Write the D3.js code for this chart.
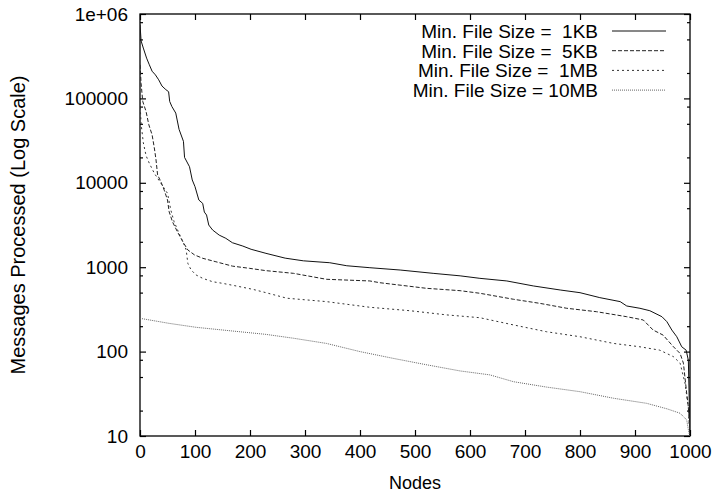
<!DOCTYPE html>
<html>
<head>
<meta charset="utf-8">
<script src="https://cdn.jsdelivr.net/npm/d3@7"></script>
<style>
  body { margin: 0; background: #fff; }
  svg text { font-family: "Liberation Sans", Arial, Helvetica, sans-serif; fill: #000; }
</style>
</head>
<body>
<div id="chart"></div>
<script>
(function() {
    // series: [node, messages processed]
    var seriesNames = ["Min. File Size =  1KB", "Min. File Size =  5KB", "Min. File Size =  1MB", "Min. File Size = 10MB"];

    var size1KB = [[0,750000],[2,480000],[6,395000],[12,300000],[17,250000],[22,210000],[28,190000],[34,166000],
        [40,140000],[47,127000],[52,120000],[54,92000],[58,80000],[65,67000],[71,43000],[79,31000],[81,20000],
        [90,15500],[95,10800],[100,9000],[107,6250],[114,5700],[117,4500],[121,4150],[125,3160],[132,2760],
        [144,2400],[156,2200],[168,1950],[187,1780],[202,1630],[229,1460],[264,1280],[297,1190],[345,1130],
        [376,1040],[418,986],[473,926],[533,846],[582,790],[618,738],[667,687],[715,600],[764,537],[800,499],
        [836,436],[873,391],[885,347],[909,326],[927,305],[949,259],[958,226],[967,180],[976,150],[985,114],
        [993,104],[997,79],[1000,10]];

    var size5KB = [[0,250000],[2,150000],[5,92000],[11,70000],[16,48800],[22,37000],[26,26000],[29,19000],
        [32,12400],[38,10300],[44,8200],[50,6260],[53,4540],[59,3460],[68,2630],[78,2000],[87,1600],[99,1400],
        [114,1275],[138,1160],[168,1030],[199,970],[229,910],[279,846],[339,719],[418,687],[436,655],[521,562],
        [582,527],[618,491],[679,417],[727,373],[776,326],[830,297],[885,259],[915,237],[933,180],[951,157],
        [970,114],[982,95],[988,73],[994,32],[997,22],[1000,10]];

    var size1MB = [[0,90000],[2,50000],[6,30000],[11,21000],[17,17000],[26,13000],[38,9860],[50,7510],
        [56,4770],[62,3460],[71,2520],[78,2000],[84,1600],[87,1110],[93,926],[102,809],[114,738],[132,673],
        [150,644],[175,599],[205,547],[229,499],[267,429],[339,391],[418,335],[491,305],[558,272],[618,252],
        [679,207],[739,172],[800,150],[861,125],[909,114],[945,104],[970,87],[982,73],[991,42],[997,22],[1000,10]];

    var size10MB = [[0,248],[53,216],[102,194],[162,177],[229,160],[279,144],[339,125],[400,100],[461,83],
        [515,71],[582,59],[636,53],[679,44],[739,38],[800,33.5],[861,28],[921,24.4],[958,21],[982,18.6],
        [994,15.5],[998,10.9],[1000,10]];

    var xTicks = [0, 100, 200, 300, 400, 500, 600, 700, 800, 900, 1000];
    var yTicks = [10, 100, 1000, 10000, 100000, 1000000];
    var yTickLabels = ["10", "100", "1000", "10000", "100000", "1e+06"];

    var width = 717, height = 495;
    var margin = {top: 14, right: 27, bottom: 59, left: 140};
    var plotW = width - margin.left - margin.right,
        plotH = height - margin.top - margin.bottom;

    var x = d3.scaleLinear().domain([0, 1000]).range([0, plotW]);
    var y = d3.scaleLog().domain([10, 1000000]).range([plotH, 0]);

    var minorTicks = [];
    yTicks.slice(0, -1).forEach(function(t) {
        [2, 5, 8].forEach(function(m) { minorTicks.push(t * m); });
    });

    var svg = d3.select("#chart").append("svg")
        .attr("width", width)
        .attr("height", height);

    var plot = svg.append("g")
        .attr("transform", "translate(" + margin.left + "," + margin.top + ")");

    svg.append("defs").append("clipPath").attr("id", "clip")
        .append("rect").attr("width", plotW).attr("height", plotH);

    // axes: ticks point inward, mirrored on top and right
    var bottomAxis = plot.append("g")
        .attr("transform", "translate(0," + plotH + ")")
        .call(d3.axisBottom(x).tickValues(xTicks).tickSize(-6).tickPadding(9).tickFormat(d3.format("d")));
    var topAxis = plot.append("g")
        .call(d3.axisTop(x).tickValues(xTicks).tickSize(-6).tickFormat(""));
    var leftAxis = plot.append("g")
        .call(d3.axisLeft(y).tickValues(yTicks).tickSize(-6).tickPadding(12)
            .tickFormat(function(d, i) { return yTickLabels[i]; }));
    var rightAxis = plot.append("g")
        .attr("transform", "translate(" + plotW + ",0)")
        .call(d3.axisRight(y).tickValues(yTicks).tickSize(-6).tickFormat(""));
    var leftMinor = plot.append("g")
        .call(d3.axisLeft(y).tickValues(minorTicks).tickSize(-3).tickFormat(""));
    var rightMinor = plot.append("g")
        .attr("transform", "translate(" + plotW + ",0)")
        .call(d3.axisRight(y).tickValues(minorTicks).tickSize(-3).tickFormat(""));

    plot.selectAll(".domain").remove();
    plot.selectAll(".tick line").attr("stroke", "#000").attr("stroke-width", 1.2);
    plot.selectAll(".tick text")
        .style("font-size", "19px")
        .style("font-family", "'Liberation Sans', Arial, sans-serif")
        .attr("fill", "#000");
    bottomAxis.selectAll(".tick text").attr("dy", "0.71em");

    plot.append("rect")
        .attr("width", plotW)
        .attr("height", plotH)
        .attr("fill", "none")
        .attr("stroke", "#000")
        .attr("stroke-width", 1.3);

    var line = d3.line()
        .x(function(d) { return x(d[0]); })
        .y(function(d) { return y(d[1]); });

    var styles = [
        {data: size1KB, dash: null, color: "#111"},
        {data: size5KB, dash: "4,2", color: "#222"},
        {data: size1MB, dash: "2,3", color: "#333"},
        {data: size10MB, dash: "1,1", color: "#666"}
    ];

    var lines = plot.append("g").attr("clip-path", "url(#clip)");
    styles.forEach(function(s) {
        lines.append("path")
            .datum(s.data)
            .attr("d", line)
            .attr("fill", "none")
            .attr("stroke", s.color)
            .attr("stroke-width", 1)
            .attr("stroke-dasharray", s.dash);
    });

    // legend, top right inside the frame
    var legend = svg.append("g").classed("legend", true);
    seriesNames.forEach(function(name, i) {
        var cy = 31 + i * 19.7;
        legend.append("text")
            .attr("x", 598)
            .attr("y", cy)
            .attr("dy", "0.36em")
            .attr("text-anchor", "end")
            .style("font-size", "19px")
            .style("white-space", "pre")
            .text(name);
        legend.append("line")
            .attr("x1", 612).attr("x2", 666)
            .attr("y1", cy).attr("y2", cy)
            .attr("stroke", styles[i].color)
            .attr("stroke-width", 1)
            .attr("stroke-dasharray", styles[i].dash);
    });

    svg.append("text")
        .attr("x", margin.left + plotW / 2)
        .attr("y", 483)
        .attr("dy", "0.36em")
        .attr("text-anchor", "middle")
        .style("font-size", "18px")
        .text("Nodes");

    svg.append("text")
        .attr("transform", "translate(18," + (margin.top + plotH / 2) + ") rotate(-90)")
        .attr("dy", "0.36em")
        .attr("text-anchor", "middle")
        .style("font-size", "20px")
        .text("Messages Processed (Log Scale)");
})()
</script>
</body>
</html>
